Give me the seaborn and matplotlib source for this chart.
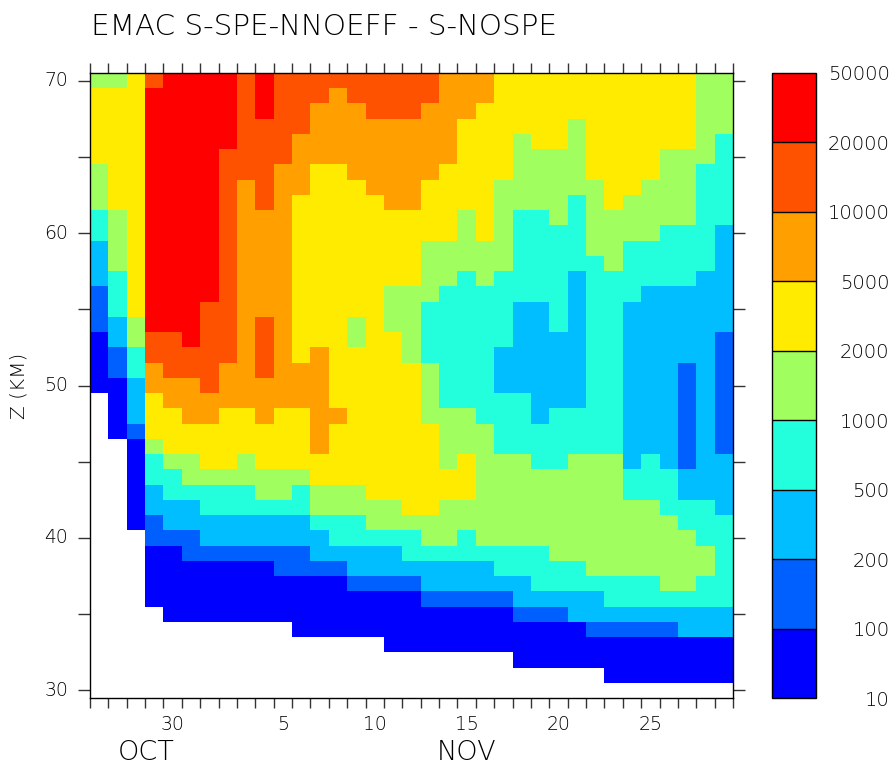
import numpy as np
import pandas as pd
import matplotlib
matplotlib.use('Agg')
import matplotlib.pyplot as plt
from matplotlib.colors import ListedColormap, BoundaryNorm
import seaborn as sns

plt.rcParams['font.family'] = ['DejaVu Sans']
plt.rcParams['font.weight'] = 'light'

# altitude of each row, top to bottom (km)
z_km = list(range(70, 29, -1))
# one column per day, Oct 26 .. Nov 29
days = [('OCT', d) for d in range(26, 32)] + [('NOV', d) for d in range(1, 30)]
day_ticks = [30, 5, 10, 15, 20, 25]

# contour levels and colours of the classes between them
levels = [10, 100, 200, 500, 1000, 2000, 5000, 10000, 20000, 50000]
level_colors = ['#0000ff', '#005fff', '#00beff', '#23ffdc', '#a0ff5f',
                '#ffeb00', '#ffa000', '#ff5200', '#ff0000']
# typical value inside each class
class_values = [30, 140, 320, 700, 1400, 3200, 7000, 14000, 32000]

# class of every cell (0 = 10-100 ... 8 = 20000-50000), '.' = no data
rows_70_51 = [
    "44 5 7 8888 7 8 777777777 666 55555555555 44",
    "555 88888 7 8 777 6 77777 666 55555555555 44",
    "555 88888 7 8 77 666 777 666 555555555555 44",
    "555 88888 7777 66666666 555555 4 555555 44",
    "555 88888 777 666666666 555 4 55 4 555555 4 3",
    "555 8888 7777 666666666 555 4444 5555 444 3",
    "4 55 8888 777 66 55 66666 5555 4444 5555 44 33",
    "4 55 8888 7 6 7 66 555 666 5555 444444 55 444 33",
    "4 55 8888 7 6 7 6 55555 66 5555 4444 3 4 5 4444 33",
    "3 4 5 8888 7 666 555555555 4 5 4 33 4 3 444444 33",
    "3 4 5 8888 7 666 555555555 4 5 4 3333 4444 333 2",
    "2 4 5 8888 7 666 5555555 44444 3333 44 33333 2",
    "2 4 5 8888 7 666 5555555 44444 33333 4 33333 2",
    "2 3 5 8888 7 666 5555555 44 3 4 3333 2 333333 22",
    "1 3 5 8888 7 666 55555 444 3333333 2 333 22222",
    "1 3 5 888 77 666 55555 44 33333 22 3 2 33 222222",
    "1 2 4 888 77 6 7 6 555 4 5 44 33333 22 3 2 33 222222",
    "0 2 4 77 8 77 6 7 6 555 4 55 4 33333 2222 33 22222 1",
    "0 1 3 77777 6 7 6 5 6 5555 4 3333 22222 33 22222 1",
    "0 1 3 6 777 66 7 666 5555 5 4 333 22222 33 222 1 2 1",
]
rows_50_30 = [
    "00 2 666 7 666666 55555 4 333 22222 33 222 1 2 1",
    ".0 2 5 666666666 55555 4 33333 222 33 222 1 2 1",
    ".0 2 55 66 55 6 55 66 5555 444 333 2 3333 222 1 2 1",
    ".0 1 555555555 6 555555 444 3333333 222 1 2 1",
    ".. 0 4 55555555 6 555555 444 3333333 222 1 2 1",
    ".. 0 3 44 55 4 5555555555 4 5 444 33 444 2 3 2 1 22",
    ".. 0 33 4444444 555555555 44444444 333 222",
    ".. 0 2 33333 44 3 444 555555 44444444 333 222",
    ".. 0 222 333333 44444 55 444444444444 333 2",
    ".. 0 1 22222222 333 44444444444444444 333",
    "... 111 2222222 3333 3 44 3 444444444444 33",
    "... 00 1111111 22222 33333333 444444444 3",
    "... 0000000 1111 22222222 33333 4444444 3",
    "... 00000000000 1111 222222 3333333 44 33",
    "... 000000000000000 11111 22222 3333333",
    ".... 0000000000000000000 111 222222222",
    "........... 0000000000000000 11111 222",
    "................ 0000000000000000000",
    "....................... 000000000000",
    "............................ 0000000",
    "...................................",
]

ncol = len(days)
grid = []
for row in rows_70_51 + rows_50_30:
    row = row.replace(' ', '').ljust(ncol, '.')[:ncol]
    grid.append([class_values[int(c)] if c != '.' else np.nan for c in row])
df = pd.DataFrame(grid, index=z_km, columns=[f'{m} {d}' for m, d in days])

fig = plt.figure(figsize=(8.95, 7.67), dpi=100)
ax = fig.add_axes([90 / 895, 69 / 767, 643 / 895, 625 / 767])
cax = fig.add_axes([772 / 895, 69 / 767, 44 / 895, 625 / 767])

cmap = ListedColormap(level_colors)
norm = BoundaryNorm(levels, cmap.N)
sns.heatmap(df, ax=ax, cbar_ax=cax, cmap=cmap, norm=norm, linewidths=0,
            cbar_kws={'drawedges': True, 'ticks': levels})

# frame back on (heatmap removes it)
for s in ax.spines.values():
    s.set_visible(True)
    s.set_linewidth(1.0)
    s.set_color('black')

# x axis: a tick at every day boundary, labels at day centres
tick_pos = [i + 0.5 for i, (m, d) in enumerate(days) if d in day_ticks]
tick_lab = [str(d) for m, d in days if d in day_ticks]
ax.set_xticks(tick_pos)
ax.set_xticklabels(tick_lab)
ax.set_xticks(np.arange(0, ncol + 1), minor=True)
ax.tick_params(axis='x', which='major', length=0, pad=12, labelsize=13.5,
               labelrotation=0, colors='black')
ax.tick_params(axis='x', which='minor', length=7.2, width=1.0, direction='out',
               top=True, bottom=True, color='#333333')
month_start = [i for i, (m, d) in enumerate(days) if d == 1][0]
for t in ax.xaxis.get_minor_ticks():
    if abs(t.get_loc() - month_start) < 1e-6:
        t.tick1line.set_markeredgewidth(2.2)
        t.tick2line.set_markeredgewidth(2.2)
        t.tick1line.set_color('black')
        t.tick2line.set_color('black')

ax.text(3.05, -0.087, 'OCT', transform=ax.get_xaxis_transform(),
        ha='center', va='center', fontsize=19.5)
ax.text(20.5, -0.087, 'NOV', transform=ax.get_xaxis_transform(),
        ha='center', va='center', fontsize=19.5)
ax.set_xlabel('')

# y axis: ticks every 5 km, labels every 10 km
zt = list(range(70, 29, -5))
ax.set_yticks([70 - z + 0.5 for z in zt])
ax.set_yticklabels([str(z) if z % 10 == 0 else '' for z in zt])
ax.tick_params(axis='y', which='major', length=8.6, width=1.0, direction='out',
               left=True, right=True, labelsize=13.5, labelrotation=0, pad=7,
               color='#333333')
ax.set_ylabel('')
fig.text(19 / 895, 1 - 386 / 767, 'Z (KM)', rotation=90, ha='center',
         va='center', fontsize=14.5)

fig.text(91 / 895, 1 - 27 / 767, 'EMAC S-SPE-NNOEFF - S-NOSPE', ha='left',
         va='center', fontsize=21.2)

# colour bar
cb = ax.collections[0].colorbar
cb.outline.set_linewidth(1.0)
cb.outline.set_edgecolor('black')
cb.dividers.set_color('black')
cb.dividers.set_linewidth(1.0)
cb.set_ticks(levels)
cb.set_ticklabels([str(v) for v in levels])
cax.tick_params(length=0, labelsize=14, pad=53)
for t in cax.get_yticklabels():
    t.set_ha('right')

fig.savefig('out.png', dpi=100)
